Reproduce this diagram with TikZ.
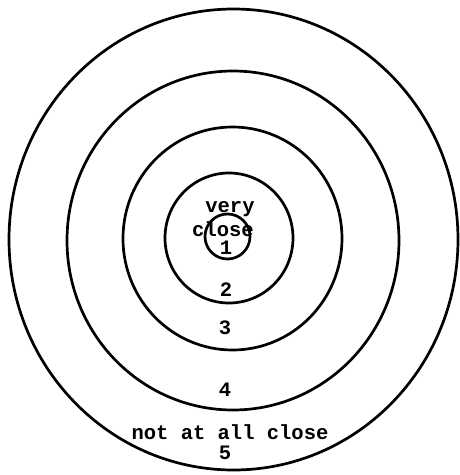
\documentclass[tikz,border=0pt]{standalone}
\usepackage{fontspec}
\newfontfamily\twfont{Liberation Mono}
\begin{document}
\begin{tikzpicture}[x=1pt,y=-1pt,
  ring/.style={line width=2.7pt},
  lbl/.style={font=\twfont\bfseries\fontsize{20.5}{20.5}\selectfont, inner sep=0pt, anchor=center}]
\useasboundingbox (0,0) rectangle (460,475);
% rings
\draw[ring] (233.5,239.5) ellipse [x radius=224.5, y radius=230.5];
\draw[ring] (233,240.5) ellipse [x radius=166, y radius=169.5];
\draw[ring] (232.5,238.5) ellipse [x radius=109.5, y radius=111.5];
\draw[ring] (229,238) ellipse [x radius=64, y radius=65];
\draw[ring] (227.5,236.5) ellipse [x radius=22.5, y radius=22.5];
% labels
\node[lbl] (very) at (230,209) {very};
\node[lbl] (close) at (223,229) {close};
\node[lbl] (one) at (226,248) {1};
\node[lbl] (two) at (226,290) {2};
\node[lbl] (three) at (225,328) {3};
\node[lbl] (four) at (225,390) {4};
\node[lbl] (notclose) at (230,432) {not at all close};
\node[lbl] (five) at (225,453) {5};
\end{tikzpicture}
\end{document}
